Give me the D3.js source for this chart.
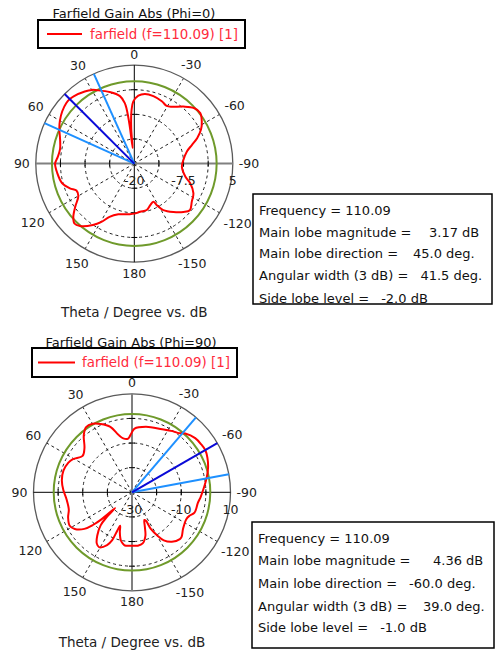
<!DOCTYPE html>
<html>
<head>
<meta charset="utf-8">
<script src="https://cdn.jsdelivr.net/npm/d3@7"></script>
<style>
  html, body { margin: 0; padding: 0; background: #ffffff; }
  svg { display: block; font-family: "DejaVu Sans", Verdana, sans-serif; }
</style>
</head>
<body>
<svg id="chart" width="497" height="654"></svg>
<script>
// ---- Farfield gain cuts (theta in degrees, gain in dB) ----
const thetaPhi0 = [-173,-165,-159,-153.5,-151.5,-148,-141,-134.5,-130,-123.5,-116.7,-109.5,-104.4,-93.6,-85.7,-77,-72,-68,-63,-58,-52.5,-47,-40.7,-33.5,-29.3,-23.8,-15.8,-8.7,-3.4,0.9,3,5,6,7,8,9,12,19,27,30,34.5,42,45,48.3,54,60,65,72,79,85,90,97,105,111,115,120,126,131,135,139,146,150.6,155,162.5,175,180];
const gainPhi0 = [-7.7,-7.8,-8.7,-9.2,-8.0,-6.1,-4.2,-2.5,-1.6,-2.5,-3.2,-4.9,-6.6,-7.9,-7.5,-6.3,-4.6,-2.8,-1.0,0.2,1.1,0.7,-0.9,-2.7,-3.2,-2.7,-2.2,-2.1,-2.7,-4.2,-6.5,-11,-16,-10,-6,-4.4,-2.5,-0.8,0.9,1.6,2.2,3.0,3.17,3.1,2.6,1.8,1.0,-0.2,-0.8,-0.5,0.1,-0.3,-1.0,-2.5,-3.8,-3.6,-1.5,0.5,1.5,1.0,-1.2,-3.0,-5.1,-6.5,-7.1,-7.3];

const thetaPhi90 = [-173.8,-168.2,-162.9,-159.7,-155.9,-153.9,-152.8,-149.6,-146.5,-141.2,-134.4,-132,-125.6,-116.3,-112.3,-108.1,-99.2,-93.5,-85.6,-78.5,-71.9,-65.3,-60,-55.6,-49.4,-42.2,-38.5,-33.5,-25.5,-12,-2.3,0.6,4.1,9.2,13.3,18.3,24.6,29.9,35.1,40.1,47,53.6,60.7,65,72.5,80.3,88.1,96.5,105.2,111.6,118.2,122.6,127.5,130,131.5,133,134.5,136.5,141.2,145.4,149,154.7,157.5,159,160.5,163,167,170,172.4,179.3];
const gainPhi90 = [-8.2,-8.8,-11.5,-14.9,-17.7,-17.1,-13.3,-9.7,-6.6,-4.2,-2.8,-2.9,-4.5,-5.4,-4.8,-3.3,-2.9,-2.0,-0.6,1.0,2.5,3.7,4.36,4.2,3.8,2.2,0.7,-0.2,-1.6,-2.8,-4.1,-6.0,-8.1,-7.8,-6.0,-2.0,0.5,2.1,2.4,0.4,-3.6,-5.1,-2.5,-1.5,-0.8,-1.1,-2.1,-3.3,-3.4,-2.1,-1.3,-2.4,-5.6,-9.5,-13.4,-20.6,-15.5,-11.5,-7.5,-4.8,-4.0,-6.3,-9.0,-13.3,-15.6,-13.1,-9.9,-8.8,-8.2,-8.3];

// ---- Axes ----
const angleTicks = [0, 30, 60, 90, 120, 150, 180, -150, -120, -90, -60, -30];
const ringsPhi0 = [-20, -13.75, -7.5, -1.25, 5];
const ringLabelsPhi0 = [-20, -7.5, 5];
const ringsPhi90 = [-30, -20, -10, 0, 10];
const ringLabelsPhi90 = [-30, -10, 10];

// ---- Lobe summary ----
const cutTitles = ["Farfield Gain Abs (Phi=0)", "Farfield Gain Abs (Phi=90)"];
const legendLabel = "farfield (f=110.09) [1]";
const frequency = 110.09;
const mainLobeMagnitude = [3.17, 4.36];
const mainLobeDirection = [45.0, -60.0];
const angularWidth = [41.5, 39.0];
const sideLobeLevel = [-2.0, -1.0];
const halfPowerLevel = [0.9, 1.8];

const svg = d3.select("#chart");
const rad = d => d * Math.PI / 180;

const panels = [
  {
    theta: thetaPhi0, gain: gainPhi0, rings: ringsPhi0, ringLabels: ringLabelsPhi0,
    cx: 134.3, cy: 163.6, R: 98.5,
    titleX: 134, titleY: 17.5,
    legend: { x: 38, y: 20, w: 207, h: 28, lineX1: 47, lineX2: 82, textX: 90 },
    hAxis: { stroke: "#808080", width: 2 }, vAxis: { stroke: "#000", width: 1 },
    axisTitleY: 312,
    box: { x: 253, y: 194, w: 239, h: 110, textX: 259, rows: [210, 232, 253, 275, 298], valueX: [0, 429, 413, 417, 366] }
  },
  {
    theta: thetaPhi90, gain: gainPhi90, rings: ringsPhi90, ringLabels: ringLabelsPhi90,
    cx: 132, cy: 492.3, R: 98.5,
    titleX: 131, titleY: 346.5,
    legend: { x: 32, y: 348, w: 205, h: 29, lineX1: 38, lineX2: 75, textX: 82 },
    hAxis: { stroke: "#000", width: 1 }, vAxis: { stroke: "#808080", width: 2 },
    axisTitleY: 642,
    box: { x: 252, y: 522, w: 242, h: 126, textX: 258, rows: [538, 560, 583, 606, 627], valueX: [0, 433, 403, 423, 372] }
  }
];

panels.forEach((p, i) => {
  const g = svg.append("g");
  const r = d3.scaleLinear().domain([p.rings[0], p.rings[p.rings.length - 1]]).range([0, p.R]);
  const px = (t, rr) => p.cx - rr * Math.sin(rad(t));
  const py = (t, rr) => p.cy - rr * Math.cos(rad(t));

  // title
  g.append("text").attr("x", p.titleX).attr("y", p.titleY)
    .attr("text-anchor", "middle").attr("font-size", 13).attr("fill", "#111")
    .text(cutTitles[i]);

  // legend
  const L = p.legend;
  g.append("rect").attr("x", L.x).attr("y", L.y).attr("width", L.w).attr("height", L.h)
    .attr("fill", "#fff").attr("stroke", "#000").attr("stroke-width", 2);
  g.append("line").attr("x1", L.lineX1).attr("x2", L.lineX2)
    .attr("y1", L.y + L.h / 2).attr("y2", L.y + L.h / 2)
    .attr("stroke", "#ff0000").attr("stroke-width", 2);
  g.append("text").attr("x", L.textX).attr("y", L.y + L.h / 2)
    .attr("dominant-baseline", "central").attr("font-size", 13.4).attr("fill", "#ff2a3c")
    .text(legendLabel);

  // dashed rings
  g.selectAll(".ring").data(p.rings.slice(1, -1)).join("circle")
    .attr("cx", p.cx).attr("cy", p.cy).attr("r", d => r(d))
    .attr("fill", "none").attr("stroke", "#222").attr("stroke-width", 1)
    .attr("stroke-dasharray", "3,3");

  // dashed spokes
  g.selectAll(".spoke").data(angleTicks.filter(t => t % 90 !== 0)).join("line")
    .attr("x1", p.cx).attr("y1", p.cy)
    .attr("x2", d => px(d, p.R)).attr("y2", d => py(d, p.R))
    .attr("stroke", "#222").attr("stroke-width", 1).attr("stroke-dasharray", "3,3");

  // outer circle
  g.append("circle").attr("cx", p.cx).attr("cy", p.cy).attr("r", p.R)
    .attr("fill", "none").attr("stroke", "#5a5a5a").attr("stroke-width", 1.3);

  // main axes
  g.append("line").attr("x1", p.cx - p.R).attr("x2", p.cx + p.R).attr("y1", p.cy).attr("y2", p.cy)
    .attr("stroke", p.hAxis.stroke).attr("stroke-width", p.hAxis.width);
  g.append("line").attr("x1", p.cx).attr("x2", p.cx).attr("y1", p.cy - p.R).attr("y2", p.cy + p.R)
    .attr("stroke", p.vAxis.stroke).attr("stroke-width", p.vAxis.width);

  // small ticks on the axes at ring radii
  const inner = p.rings.slice(1, -1);
  inner.forEach(v => {
    const rr = r(v);
    [-1, 1].forEach(s => {
      g.append("line").attr("x1", p.cx + s * rr).attr("x2", p.cx + s * rr)
        .attr("y1", p.cy - 3).attr("y2", p.cy + 3).attr("stroke", "#000").attr("stroke-width", 1);
      g.append("line").attr("y1", p.cy + s * rr).attr("y2", p.cy + s * rr)
        .attr("x1", p.cx - 3).attr("x2", p.cx + 3).attr("stroke", "#000").attr("stroke-width", 1);
    });
  });

  // half-power circle
  g.append("circle").attr("cx", p.cx).attr("cy", p.cy).attr("r", r(halfPowerLevel[i]))
    .attr("fill", "none").attr("stroke", "#6f9a2b").attr("stroke-width", 2);

  // gain curve
  const pts = p.theta.map((t, k) => [t, p.gain[k]]);
  const line = d3.lineRadial()
    .angle(d => -rad(d[0]))
    .radius(d => r(d[1]))
    .curve(d3.curveCatmullRomClosed.alpha(0.5));
  g.append("path").attr("transform", `translate(${p.cx},${p.cy})`)
    .attr("d", line(pts)).attr("fill", "none")
    .attr("stroke", "#ff0000").attr("stroke-width", 2).attr("stroke-linejoin", "round");

  // main lobe direction and 3 dB beam edges
  const dir = mainLobeDirection[i], half = angularWidth[i] / 2;
  [dir - half, dir + half].forEach(t => {
    g.append("line").attr("x1", p.cx).attr("y1", p.cy)
      .attr("x2", px(t, p.R)).attr("y2", py(t, p.R))
      .attr("stroke", "#1e90ff").attr("stroke-width", 2);
  });
  g.append("line").attr("x1", p.cx).attr("y1", p.cy)
    .attr("x2", px(dir, p.R)).attr("y2", py(dir, p.R))
    .attr("stroke", "#0a0ad8").attr("stroke-width", 2);

  // angle labels
  angleTicks.forEach(t => {
    const txt = g.append("text").attr("font-size", 12.5).attr("fill", "#222")
      .attr("text-anchor", "middle").attr("dominant-baseline", "central").text(t);
    const w = txt.node().getComputedTextLength();
    const rr = p.R + 6 + (w / 2) * Math.abs(Math.sin(rad(t))) + 5 * Math.abs(Math.cos(rad(t)));
    txt.attr("x", px(t, rr)).attr("y", py(t, rr));
  });

  // radial labels along the right half of the horizontal axis
  p.ringLabels.forEach(v => {
    g.append("text").attr("x", p.cx + r(v)).attr("y", p.cy + 17)
      .attr("text-anchor", "middle").attr("dominant-baseline", "central")
      .attr("font-size", 12.5).attr("fill", "#222").text(v);
  });

  // axis title
  g.append("text").attr("x", p.cx).attr("y", p.axisTitleY)
    .attr("text-anchor", "middle").attr("dominant-baseline", "central")
    .attr("font-size", 13.5).attr("fill", "#222").text("Theta / Degree vs. dB");

  // lobe summary box
  const B = p.box;
  g.append("rect").attr("x", B.x).attr("y", B.y).attr("width", B.w).attr("height", B.h)
    .attr("fill", "#fff").attr("stroke", "#000").attr("stroke-width", 1.5);
  const rows = [
    ["Frequency = " + frequency.toFixed(2), null],
    ["Main lobe magnitude =", mainLobeMagnitude[i].toFixed(2) + " dB"],
    ["Main lobe direction =", mainLobeDirection[i].toFixed(1) + " deg."],
    ["Angular width (3 dB) =", angularWidth[i].toFixed(1) + " deg."],
    ["Side lobe level =", sideLobeLevel[i].toFixed(1) + " dB"]
  ];
  rows.forEach((row, k) => {
    const lab = g.append("text").attr("x", B.textX).attr("y", B.rows[k])
      .attr("dominant-baseline", "central").attr("font-size", 13).attr("fill", "#111")
      .text(row[0]);
    if (row[1]) {
      const labelEnd = B.textX + lab.node().getComputedTextLength();
      g.append("text").attr("x", Math.max(B.valueX[k], labelEnd + 12)).attr("y", B.rows[k])
        .attr("dominant-baseline", "central").attr("font-size", 13).attr("fill", "#111")
        .text(row[1]);
    }
  });
});
</script>
</body>
</html>
